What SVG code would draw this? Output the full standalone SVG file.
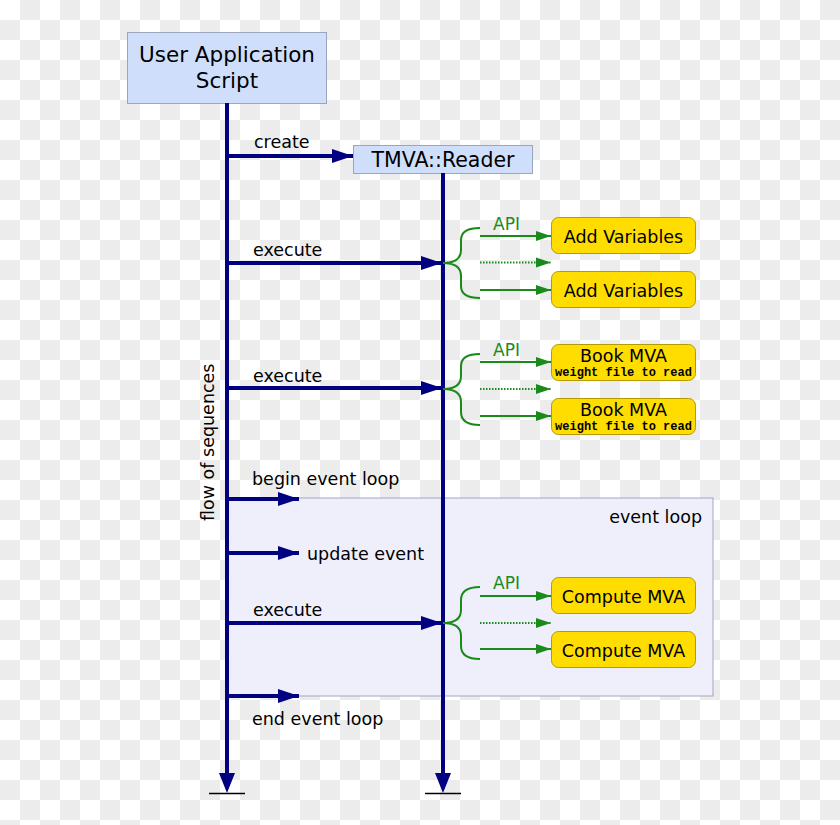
<svg xmlns="http://www.w3.org/2000/svg" width="840" height="825" viewBox="0 0 840 825">
<defs>
<pattern id="checker" width="40" height="40" patternUnits="userSpaceOnUse">
<rect width="40" height="40" fill="#ffffff"/>
<rect x="20" y="0" width="20" height="20" fill="#ececec"/>
<rect x="0" y="20" width="20" height="20" fill="#ececec"/>
</pattern>
<marker id="navyHead" markerUnits="userSpaceOnUse" markerWidth="22" markerHeight="16" refX="21" refY="8" orient="auto">
<path d="M0,1 L21,8 L0,15 Z" fill="#000080"/>
</marker>
<marker id="greenHead" markerUnits="userSpaceOnUse" markerWidth="16" markerHeight="12" refX="15" refY="6" orient="auto">
<path d="M0,1 L15,6 L0,11 Z" fill="#1a8a1a"/>
</marker>
</defs>
<style>
.t{font-family:"DejaVu Sans","Verdana",sans-serif;fill:#000}
.lbl{font-size:17.5px}
.api{font-family:"DejaVu Sans","Verdana",sans-serif;font-size:17px;fill:#1a8a1a}
.mono{font-family:"Liberation Mono","DejaVu Sans Mono",monospace;font-size:12px;font-weight:bold;fill:#000}
.bluebox{fill:#cfdffb;stroke:#9aa6bb;stroke-width:1}
.ybox{fill:#ffdd00;stroke:#b39b00;stroke-width:1}
.life{stroke:#000080;stroke-width:4;fill:none}
.msg{stroke:#000080;stroke-width:4;fill:none;marker-end:url(#navyHead)}
.g{stroke:#1a8a1a;stroke-width:2;fill:none}
.ga{stroke:#1a8a1a;stroke-width:2;fill:none;marker-end:url(#greenHead)}
.gd{stroke:#1a8a1a;stroke-width:2;fill:none;stroke-dasharray:1.5 1.5;marker-end:url(#greenHead)}
.bar{stroke:#000;stroke-width:1.5}
</style>
<rect width="840" height="825" fill="url(#checker)"/>

<g id="event-loop">
<rect x="227" y="498" width="486" height="198" fill="#efeffb" stroke="#a3a3c2" stroke-width="1"/>
<text class="t lbl" x="702" y="523" text-anchor="end">event loop</text>
</g>

<g id="user-script">
<rect class="bluebox" x="127.5" y="32.5" width="199" height="71"/>
<text class="t" font-size="21.5" x="227" y="62" text-anchor="middle">User Application</text>
<text class="t" font-size="21.5" x="227" y="88" text-anchor="middle">Script</text>
</g>

<g id="tmva-reader">
<rect class="bluebox" x="353.5" y="145.5" width="179" height="28"/>
<text class="t" font-size="20.5" x="443" y="167" text-anchor="middle">TMVA::Reader</text>
</g>

<g id="connectors">
<path class="life" d="M227,103 V775"/>
<path d="M219,773 L227,793 L235,773 Z" fill="#000080"/>
<path class="bar" d="M209,793.5 H245"/>
<path class="life" d="M443,173 V775"/>
<path d="M435,773 L443,793 L451,773 Z" fill="#000080"/>
<path class="bar" d="M425,793.5 H461"/>

<path class="msg" d="M227,156 H353"/>
<path class="msg" d="M227,263 H442"/>
<path class="msg" d="M227,388 H442"/>
<path class="msg" d="M227,623 H442"/>
<path class="msg" d="M227,499 H299"/>
<path class="msg" d="M227,553 H299"/>
<path class="msg" d="M227,696 H299"/>

<g id="brace1">
<path class="g" d="M443,263 Q461,263 461,250 V240 Q461,228 480,228 M443,263 Q461,263 461,276 V286 Q461,298 480,298"/>
<path class="ga" d="M480,236 H551"/>
<path class="gd" d="M480,262.5 H551"/>
<path class="ga" d="M480,290 H551"/>
</g>
<g id="brace2">
<path class="g" d="M443,389 Q461,389 461,376 V366 Q461,354 480,354 M443,389 Q461,389 461,402 V412 Q461,425 480,425"/>
<path class="ga" d="M480,362 H551"/>
<path class="gd" d="M480,389 H551"/>
<path class="ga" d="M480,416 H551"/>
</g>
<g id="brace3">
<path class="g" d="M443,623 Q461,623 461,610 V600 Q461,587 480,587 M443,623 Q461,623 461,636 V646 Q461,659 480,659"/>
<path class="ga" d="M480,596 H551"/>
<path class="gd" d="M480,623 H551"/>
<path class="ga" d="M480,649 H551"/>
</g>
</g>

<g id="labels">
<text class="t lbl" x="254" y="148">create</text>
<text class="t lbl" x="253" y="256">execute</text>
<text class="t lbl" x="253" y="382">execute</text>
<text class="t lbl" x="253" y="616">execute</text>
<text class="t lbl" x="252" y="485">begin event loop</text>
<text class="t lbl" x="307" y="560">update event</text>
<text class="t lbl" x="252" y="725">end event loop</text>
<text class="t lbl" transform="translate(214,521) rotate(-90)">flow of sequences</text>
<text class="api" x="493" y="230">API</text>
<text class="api" x="493" y="356">API</text>
<text class="api" x="493" y="589">API</text>
</g>

<g id="add-variables-1">
<rect class="ybox" x="551.5" y="217.5" width="144" height="36" rx="7"/>
<text class="t lbl" x="623.5" y="242.5" text-anchor="middle">Add Variables</text>
</g>
<g id="add-variables-2">
<rect class="ybox" x="551.5" y="271.5" width="144" height="36" rx="7"/>
<text class="t lbl" x="623.5" y="296.5" text-anchor="middle">Add Variables</text>
</g>
<g id="book-mva-1">
<rect class="ybox" x="551.5" y="344.5" width="144" height="36" rx="7"/>
<text class="t lbl" x="623.5" y="361.5" text-anchor="middle">Book MVA</text>
<text class="mono" x="623.5" y="376" text-anchor="middle">weight file to read</text>
</g>
<g id="book-mva-2">
<rect class="ybox" x="551.5" y="398.5" width="144" height="36" rx="7"/>
<text class="t lbl" x="623.5" y="415.5" text-anchor="middle">Book MVA</text>
<text class="mono" x="623.5" y="430" text-anchor="middle">weight file to read</text>
</g>
<g id="compute-mva-1">
<rect class="ybox" x="551.5" y="577.5" width="144" height="36" rx="7"/>
<text class="t lbl" x="623.5" y="602.5" text-anchor="middle">Compute MVA</text>
</g>
<g id="compute-mva-2">
<rect class="ybox" x="551.5" y="631.5" width="144" height="36" rx="7"/>
<text class="t lbl" x="623.5" y="656.5" text-anchor="middle">Compute MVA</text>
</g>
</svg>
